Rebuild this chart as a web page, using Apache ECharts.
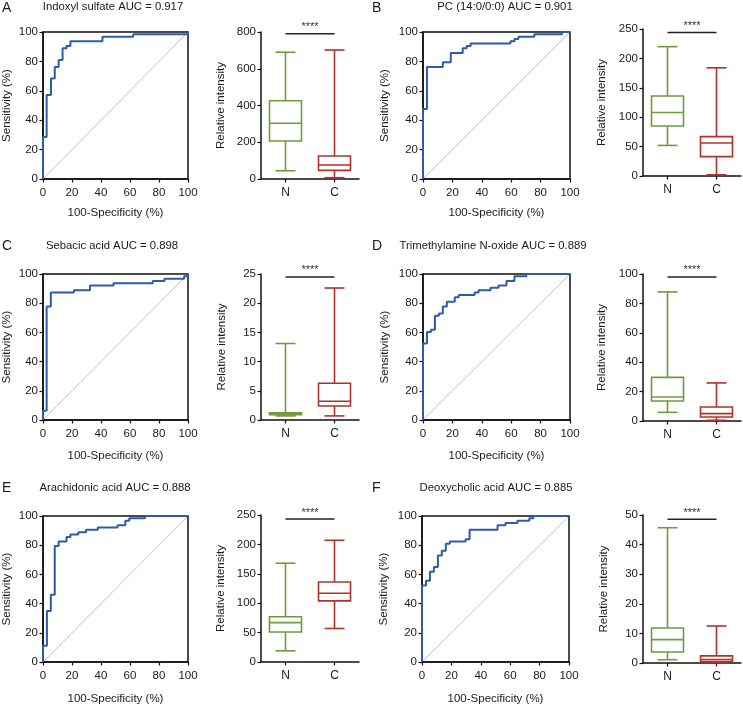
<!DOCTYPE html>
<html><head><meta charset="utf-8">
<script src="https://cdn.jsdelivr.net/npm/echarts@6/dist/echarts.min.js"></script>
<style>html,body{margin:0;padding:0;background:#fff}#c{width:743px;height:706px}</style>
</head><body><div id="c"></div>
<script>
// ---------- DATA ----------
const panelLetters = ['A','B','C','D','E','F'];
const panelTitles = ['Indoxyl sulfate AUC = 0.917','PC (14:0/0:0) AUC = 0.901','Sebacic acid AUC = 0.898',
  'Trimethylamine N-oxide AUC = 0.889','Arachidonic acid AUC = 0.888','Deoxycholic acid AUC = 0.885'];
const groups = ['N','C'];
const rocXName = '100-Specificity (%)';
const rocYName = 'Sensitivity (%)';
const boxYName = 'Relative intensity';
const sigText = '****';

// ROC step curves: false positive rate (100-Specificity) and sensitivity, %
const rocA_fpr = [0, 0, 2.5, 5.5, 8.1, 10.8, 13.5, 16.2, 18.9, 41, 62.2, 100];
const rocA_tpr = [0, 28.6, 57.1, 68.3, 76.2, 81.0, 88.9, 90.5, 93.7, 96.8, 98.4, 100];
const rocB_fpr = [0, 0, 2.7, 13.5, 18.9, 27.0, 29.7, 32.4, 59.5, 62.2, 64.9, 75.7, 94.6, 100];
const rocB_tpr = [0, 47.6, 76.2, 79.4, 85.7, 88.9, 90.5, 92.1, 93.7, 95.2, 96.8, 98.4, 100, 100];
const rocC_fpr = [0, 0, 2.5, 5.4, 21.3, 32.4, 48.6, 75.7, 83.8, 97.3, 100];
const rocC_tpr = [0, 6.3, 77.8, 87.3, 88.9, 92.1, 93.7, 95.2, 96.8, 98.4, 100];
const rocD_fpr = [0, 0, 2.7, 5.4, 8.1, 10.8, 13.5, 16.2, 21.6, 24.3, 35.1, 37.8, 45.9, 51.4, 56.8, 62.2, 70.3, 100];
const rocD_tpr = [0, 52.4, 60.3, 61.9, 71.4, 73.0, 77.8, 81.0, 84.1, 85.7, 87.3, 88.9, 90.5, 92.1, 95.2, 98.4, 100, 100];
const rocE_fpr = [0, 0, 2.7, 5.4, 8.1, 10.8, 16.2, 18.9, 24.3, 29.7, 37.8, 51.4, 56.8, 59.5, 70.3, 100];
const rocE_tpr = [0, 11.1, 34.9, 46.0, 79.4, 82.5, 85.7, 87.3, 88.9, 90.5, 92.1, 93.7, 96.8, 98.4, 100, 100];
const rocF_fpr = [0, 0, 2.7, 5.4, 8.1, 10.8, 13.5, 16.2, 18.9, 29.7, 32.4, 51.4, 56.8, 64.9, 73.0, 75.7, 100];
const rocF_tpr = [0, 52.4, 55.6, 61.9, 65.1, 73.0, 76.2, 81.0, 82.5, 84.1, 90.5, 93.7, 95.2, 96.8, 98.4, 100, 100];
const diagonal = [[0, 0], [100, 100]];

// Box plots: [min, Q1, median, Q3, max]
const boxA_N = [45, 207, 303, 426, 690];
const boxA_C = [7, 47, 76, 125, 702];
const boxB_N = [52, 85, 108, 136, 220];
const boxB_C = [2, 33, 56, 67, 184];
const boxC_N = [0.7, 0.9, 1.05, 1.25, 13.1];
const boxC_C = [0.7, 2.4, 3.2, 6.3, 22.6];
const boxD_N = [5.9, 13.6, 16.3, 29.7, 87.8];
const boxD_C = [0.5, 2.7, 5.0, 9.5, 25.9];
const boxE_N = [19, 51, 67, 77, 168];
const boxE_C = [57, 104, 117, 136, 207];
const boxF_N = [1.1, 3.7, 7.9, 11.8, 45.7];
const boxF_C = [0.1, 0.5, 1.2, 2.4, 12.5];
const boxMax = [800, 250, 25, 100, 250, 50];
const boxInterval = [200, 50, 5, 20, 50, 10];
const sigLevel = [790, 244, 24.5, 98, 243, 48.6];

// ---------- LAYOUT / STYLE ----------
const FONT = '"Liberation Sans", Arial, sans-serif';
const TXT = '#1a1a1a';
const AX = '#111';
const BLUE = '#2c5cab';
const GREEN = '#6e9c3c';
const RED = '#b3302b';
const rocGrids = [
  {left:41, top:32, width:147, height:147},
  {left:423, top:32, width:147, height:147},
  {left:41, top:274, width:147, height:146},
  {left:423, top:274, width:147, height:146},
  {left:41, top:516, width:147, height:146},
  {left:422, top:516, width:147, height:146}];
const boxGrids = [
  {left:261, top:32, width:98, height:147},
  {left:643, top:29, width:98, height:147},
  {left:261, top:274, width:98, height:146},
  {left:643, top:274, width:98, height:147},
  {left:261, top:515, width:98, height:147},
  {left:643, top:515, width:98, height:148}];
const xNameGap = [28, 28, 30, 30, 31, 31];
const rocYNameGap = [30, 32, 30, 32, 30, 32];
const boxYNameGap = [34, 35, 33, 35, 34, 33];
const titlePos = [[113,7],[505,7],[112,246],[493,246],[115,488],[496,488]];
const letterPos = [[2,8],[372,8],[2,246],[372,246],[2,488],[372,488]];

const rocFpr = [rocA_fpr, rocB_fpr, rocC_fpr, rocD_fpr, rocE_fpr, rocF_fpr];
const rocTpr = [rocA_tpr, rocB_tpr, rocC_tpr, rocD_tpr, rocE_tpr, rocF_tpr];
const boxN = [boxA_N, boxB_N, boxC_N, boxD_N, boxE_N, boxF_N];
const boxC = [boxA_C, boxB_C, boxC_C, boxD_C, boxE_C, boxF_C];

function axisStyle() {
  return {
    axisLine: {show:true, onZero:false, lineStyle:{color:AX, width:1.5}},
    axisTick: {show:true, inside:false, length:3.5, lineStyle:{color:AX, width:1.2}},
    splitLine: {show:false},
    nameTextStyle: {fontSize:11.5, color:TXT, fontFamily:FONT}
  };
}

function renderBox(params, api) {
  const ci = api.value(0);
  const v = [1,2,3,4,5].map(k => api.value(k));
  const p = v.map(val => api.coord([ci, val]));
  const xc = p[0][0];
  const y = p.map(q => q[1]);
  const color = ci === 0 ? GREEN : RED;
  const hb = 16, hc = 10;
  const st = {stroke: color, lineWidth: 1.6, fill: 'none'};
  return {type:'group', children:[
    {type:'rect', shape:{x:xc-hb, y:y[3], width:2*hb, height:y[1]-y[3]}, style:st},
    {type:'line', shape:{x1:xc-hb, y1:y[2], x2:xc+hb, y2:y[2]}, style:st},
    {type:'line', shape:{x1:xc, y1:y[1], x2:xc, y2:y[0]}, style:st},
    {type:'line', shape:{x1:xc, y1:y[3], x2:xc, y2:y[4]}, style:st},
    {type:'line', shape:{x1:xc-hc, y1:y[0], x2:xc+hc, y2:y[0]}, style:st},
    {type:'line', shape:{x1:xc-hc, y1:y[4], x2:xc+hc, y2:y[4]}, style:st}
  ]};
}

function renderSig(params, api) {
  const a = api.coord([api.value(0), api.value(2)]);
  const b = api.coord([api.value(1), api.value(2)]);
  return {type:'group', children:[
    {type:'line', shape:{x1:a[0], y1:a[1], x2:b[0], y2:b[1]}, style:{stroke:'#222', lineWidth:1.5}},
    {type:'text', x:(a[0]+b[0])/2, y:a[1]-1, style:{text:sigText, align:'center', verticalAlign:'bottom',
      fill:'#333', font:'11px ' + FONT}}
  ]};
}

const option = {animation:false, backgroundColor:'#fff', grid:[], xAxis:[], yAxis:[], series:[], graphic:[]};

for (let i = 0; i < 6; i++) {
  // ROC panel
  const rg = option.grid.length;
  option.grid.push(Object.assign({show:true, borderColor:AX, borderWidth:1.5, backgroundColor:'transparent'}, rocGrids[i]));
  option.xAxis.push(Object.assign(axisStyle(), {gridIndex:rg, type:'value', min:0, max:100, interval:20,
    name:rocXName, nameLocation:'middle', nameGap:xNameGap[i],
    axisLabel:{fontSize:11.5, color:TXT, margin:7.5, fontFamily:FONT}}));
  option.yAxis.push(Object.assign(axisStyle(), {gridIndex:rg, type:'value', min:0, max:100, interval:20,
    name:rocYName, nameLocation:'middle', nameRotate:90, nameGap:rocYNameGap[i],
    axisLabel:{fontSize:11.5, color:TXT, margin:5, fontFamily:FONT}}));
  option.series.push({type:'line', xAxisIndex:rg, yAxisIndex:rg, data:diagonal, showSymbol:false, symbol:'none',
    lineStyle:{color:'#b5b5b5', width:0.8}, silent:true, z:3});
  option.series.push({type:'line', xAxisIndex:rg, yAxisIndex:rg, step:'end', clip:false,
    data:rocFpr[i].map((x, k) => [x, rocTpr[i][k]]), showSymbol:false, symbol:'none',
    lineStyle:{color:BLUE, width:2}, z:5});

  // Box panel
  const bg = option.grid.length;
  option.grid.push(Object.assign({show:false}, boxGrids[i]));
  option.xAxis.push(Object.assign(axisStyle(), {gridIndex:bg, type:'category', data:groups, boundaryGap:true,
    axisTick:{show:true, alignWithLabel:true, length:3.5, lineStyle:{color:AX, width:1.2}},
    axisLabel:{fontSize:12, color:TXT, margin:8, fontFamily:FONT}}));
  option.yAxis.push(Object.assign(axisStyle(), {gridIndex:bg, type:'value', min:0, max:boxMax[i], interval:boxInterval[i],
    name:boxYName, nameLocation:'middle', nameRotate:90, nameGap:boxYNameGap[i],
    axisLabel:{fontSize:11.5, color:TXT, margin:5, fontFamily:FONT}}));
  option.series.push({type:'custom', xAxisIndex:bg, yAxisIndex:bg, renderItem:renderBox, clip:false, z:5,
    encode:{x:0, y:[1,2,3,4,5]},
    data:[[0].concat(boxN[i]), [1].concat(boxC[i])]});
  option.series.push({type:'custom', xAxisIndex:bg, yAxisIndex:bg, renderItem:renderSig, clip:false, z:5,
    encode:{x:[0,1], y:2}, data:[[0, 1, sigLevel[i]]]});

  // texts
  option.graphic.push({type:'text', x:letterPos[i][0], y:letterPos[i][1],
    style:{text:panelLetters[i], align:'left', verticalAlign:'middle', fill:TXT, font:'14px ' + FONT}});
  option.graphic.push({type:'text', x:titlePos[i][0], y:titlePos[i][1],
    style:{text:panelTitles[i], align:'center', verticalAlign:'middle', fill:TXT, font:'11.3px ' + FONT}});
}

const chart = echarts.init(document.getElementById('c'), null, {renderer:'canvas'});
chart.setOption(option);
</script></body></html>
